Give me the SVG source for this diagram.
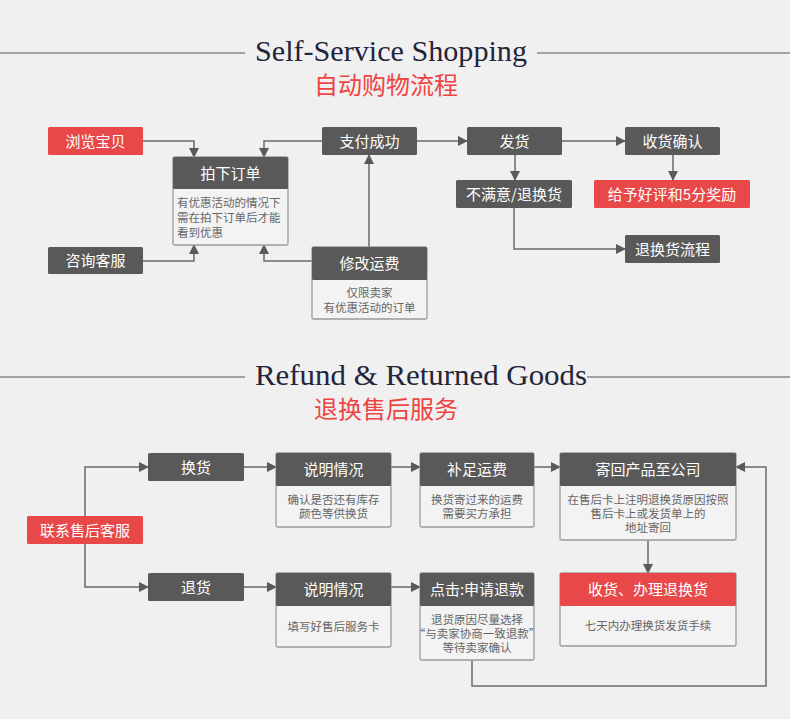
<svg xmlns="http://www.w3.org/2000/svg" width="790" height="719" viewBox="0 0 790 719">
<defs>
<marker id="ah" viewBox="0 0 10 10" refX="9" refY="5" markerWidth="10" markerHeight="10" markerUnits="userSpaceOnUse" orient="auto">
<path d="M0,0 L10,5 L0,10 Z" fill="#5a5a5a"/>
</marker>
<style>
.bg{fill:#f0f0f0}
.hl{stroke:#8a8a8a;stroke-width:1.5}
.ten{font-family:"Liberation Serif","Noto Serif",serif;font-size:29px;fill:#24243a}
.tcn{font-family:"Noto Sans CJK SC","Noto Sans",sans-serif;font-size:24px;fill:#ee4444}
.dk{fill:#595959}
.rd{fill:#e84848}
.body{fill:#f3f3f3;stroke:#9a9a9a;stroke-width:1.3}
.ht{font-family:"Noto Sans CJK SC","Noto Sans",sans-serif;font-size:15px;fill:#ffffff;text-anchor:middle}
.bt{font-family:"Noto Sans CJK SC","Noto Sans",sans-serif;font-size:11.5px;fill:#666666;text-anchor:middle}
.btl{font-family:"Noto Sans CJK SC","Noto Sans",sans-serif;font-size:11.5px;fill:#666666}
.c{fill:none;stroke:#6a6a6a;stroke-width:1.5;marker-end:url(#ah)}
.cn{fill:none;stroke:#6a6a6a;stroke-width:1.5}
</style>
</defs>
<rect class="bg" x="0" y="0" width="790" height="719"/>

<!-- Titles -->
<g id="title1">
<line class="hl" x1="0" y1="53" x2="245" y2="53"/>
<line class="hl" x1="537" y1="53" x2="790" y2="53"/>
<text class="ten" x="255" y="61" textLength="272" lengthAdjust="spacingAndGlyphs">Self-Service Shopping</text>
<text class="tcn" x="386" y="94" text-anchor="middle">自动购物流程</text>
</g>
<g id="title2">
<line class="hl" x1="0" y1="377" x2="245" y2="377"/>
<line class="hl" x1="587" y1="377" x2="790" y2="377"/>
<text class="ten" x="255" y="385" textLength="332" lengthAdjust="spacingAndGlyphs">Refund &amp; Returned Goods</text>
<text class="tcn" x="386" y="418" text-anchor="middle">退换售后服务</text>
</g>

<!-- Connectors -->
<g id="connectors">
<path class="c" d="M143,141 H194 V157"/>
<path class="c" d="M143,261 H194 V245"/>
<path class="c" d="M322,141 H264 V157"/>
<path class="c" d="M312,261 H264 V245"/>
<path class="c" d="M369,247 V155"/>
<path class="c" d="M417,141 H467"/>
<path class="c" d="M562,141 H625"/>
<path class="c" d="M515,155 V180"/>
<path class="c" d="M673,155 V180"/>
<path class="c" d="M514,208 V249 H625"/>

<path class="c" d="M85,516 V467 H148"/>
<path class="c" d="M85,544 V587 H148"/>
<path class="c" d="M244,467 H276"/>
<path class="c" d="M244,587 H276"/>
<path class="c" d="M391,467 H420"/>
<path class="c" d="M391,587 H420"/>
<path class="c" d="M534,467 H560"/>
<path class="c" d="M648,540 V573"/>
<path class="c" d="M472,660 V686 H766 V467 H736"/>
</g>

<!-- Top section nodes -->
<g id="n-browse">
<rect class="rd" x="48" y="127" width="95" height="28" rx="1.5"/>
<text class="ht" x="95.5" y="146.5">浏览宝贝</text>
</g>
<g id="n-consult">
<rect class="dk" x="48" y="247" width="95" height="27" rx="1.5"/>
<text class="ht" x="95.5" y="266">咨询客服</text>
</g>
<g id="n-order">
<rect class="body" x="173" y="157" width="115" height="88" rx="1.5"/>
<rect class="dk" x="173" y="157" width="115" height="32" rx="1.5"/>
<text class="ht" x="230.5" y="178.5">拍下订单</text>
<text class="btl" x="177" y="207">有优惠活动的情况下</text>
<text class="btl" x="177" y="222">需在拍下订单后才能</text>
<text class="btl" x="177" y="237">看到优惠</text>
</g>
<g id="n-paid">
<rect class="dk" x="322" y="127" width="95" height="28" rx="1.5"/>
<text class="ht" x="369.5" y="146.5">支付成功</text>
</g>
<g id="n-freight">
<rect class="body" x="312" y="247" width="115" height="72" rx="1.5"/>
<rect class="dk" x="312" y="247" width="115" height="33" rx="1.5"/>
<text class="ht" x="369.5" y="269">修改运费</text>
<text class="bt" x="369.5" y="297">仅限卖家</text>
<text class="bt" x="369.5" y="312">有优惠活动的订单</text>
</g>
<g id="n-ship">
<rect class="dk" x="467" y="127" width="95" height="28" rx="1.5"/>
<text class="ht" x="514.5" y="146.5">发货</text>
</g>
<g id="n-receive">
<rect class="dk" x="625" y="127" width="95" height="28" rx="1.5"/>
<text class="ht" x="672.5" y="146.5">收货确认</text>
</g>
<g id="n-unsat">
<rect class="dk" x="456" y="180" width="116" height="28" rx="1.5"/>
<text class="ht" x="514" y="199.5">不满意/退换货</text>
</g>
<g id="n-review">
<rect class="rd" x="594" y="180" width="156" height="28" rx="1.5"/>
<text class="ht" x="672" y="199.5">给予好评和5分奖励</text>
</g>
<g id="n-returnflow">
<rect class="dk" x="625" y="235" width="95" height="28" rx="1.5"/>
<text class="ht" x="672.5" y="254.5">退换货流程</text>
</g>

<!-- Bottom section nodes -->
<g id="n-contact">
<rect class="rd" x="27" y="516" width="116" height="28" rx="1.5"/>
<text class="ht" x="85" y="535.5">联系售后客服</text>
</g>
<g id="n-exchange">
<rect class="dk" x="148" y="453" width="96" height="28" rx="1.5"/>
<text class="ht" x="196" y="472.5">换货</text>
</g>
<g id="n-return">
<rect class="dk" x="148" y="573" width="96" height="28" rx="1.5"/>
<text class="ht" x="196" y="592.5">退货</text>
</g>
<g id="n-explain1">
<rect class="body" x="276" y="453" width="115" height="74" rx="1.5"/>
<rect class="dk" x="276" y="453" width="115" height="33" rx="1.5"/>
<text class="ht" x="333.5" y="475">说明情况</text>
<text class="bt" x="333.5" y="504">确认是否还有库存</text>
<text class="bt" x="333.5" y="518">颜色等供换货</text>
</g>
<g id="n-explain2">
<rect class="body" x="276" y="573" width="115" height="74" rx="1.5"/>
<rect class="dk" x="276" y="573" width="115" height="33" rx="1.5"/>
<text class="ht" x="333.5" y="595">说明情况</text>
<text class="bt" x="333.5" y="631">填写好售后服务卡</text>
</g>
<g id="n-topup">
<rect class="body" x="420" y="453" width="114" height="74" rx="1.5"/>
<rect class="dk" x="420" y="453" width="114" height="33" rx="1.5"/>
<text class="ht" x="477" y="475">补足运费</text>
<text class="bt" x="477" y="504">换货寄过来的运费</text>
<text class="bt" x="477" y="518">需要买方承担</text>
</g>
<g id="n-refund">
<rect class="body" x="420" y="573" width="114" height="87" rx="1.5"/>
<rect class="dk" x="420" y="573" width="114" height="33" rx="1.5"/>
<text class="ht" x="477" y="595">点击:申请退款</text>
<text class="bt" x="477" y="624">退货原因尽量选择</text>
<text class="bt" x="477" y="638">“与卖家协商一致退款”</text>
<text class="bt" x="477" y="652">等待卖家确认</text>
</g>
<g id="n-sendback">
<rect class="body" x="560" y="453" width="176" height="87" rx="1.5"/>
<rect class="dk" x="560" y="453" width="176" height="33" rx="1.5"/>
<text class="ht" x="648" y="475">寄回产品至公司</text>
<text class="bt" x="648" y="504">在售后卡上注明退换货原因按照</text>
<text class="bt" x="648" y="518">售后卡上或发货单上的</text>
<text class="bt" x="648" y="532">地址寄回</text>
</g>
<g id="n-handle">
<rect class="body" x="560" y="573" width="176" height="73" rx="1.5"/>
<rect class="rd" x="560" y="573" width="176" height="33" rx="1.5"/>
<text class="ht" x="648" y="595">收货、办理退换货</text>
<text class="bt" x="648" y="630">七天内办理换货发货手续</text>
</g>
</svg>
